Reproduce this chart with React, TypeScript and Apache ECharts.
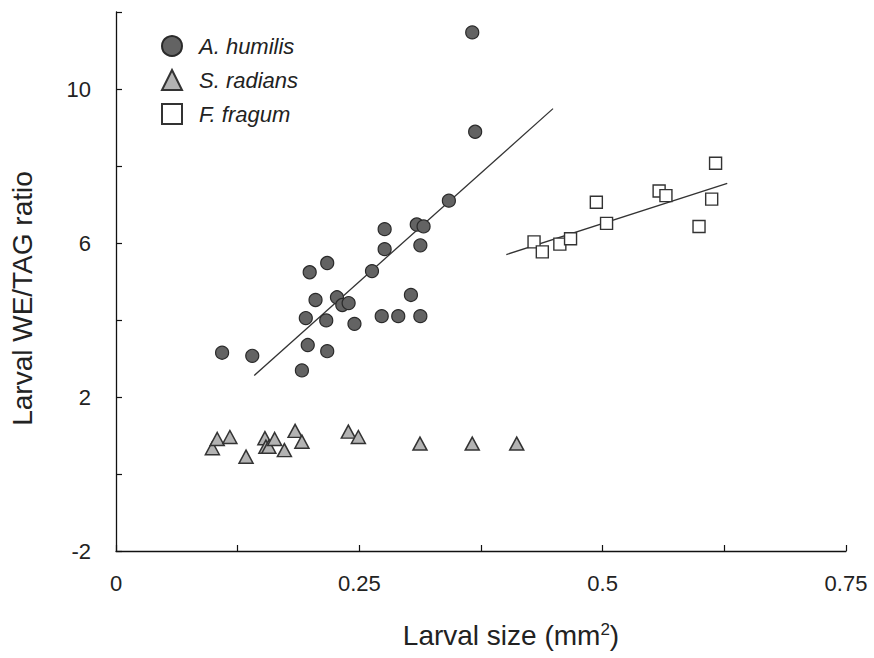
import React, { useEffect, useRef } from "react";
import * as echarts from "echarts";

// A. humilis (circles)
const humilisSize = [0.109, 0.140, 0.191, 0.197, 0.195, 0.205, 0.199, 0.217, 0.216, 0.217, 0.227, 0.2325, 0.239, 0.245, 0.263, 0.276, 0.276, 0.273, 0.290, 0.303, 0.3127, 0.3127, 0.309, 0.316, 0.342, 0.366, 0.369];
const humilisRatio = [3.15, 3.07, 2.69, 3.35, 4.05, 4.52, 5.24, 5.48, 3.99, 3.19, 4.59, 4.39, 4.44, 3.90, 5.27, 6.36, 5.84, 4.10, 4.10, 4.65, 4.10, 5.94, 6.48, 6.43, 7.10, 11.47, 8.89];

// S. radians (triangles)
const radiansSize = [0.099, 0.104, 0.117, 0.1336, 0.153, 0.154, 0.157, 0.163, 0.173, 0.184, 0.191, 0.2387, 0.249, 0.3123, 0.366, 0.4117];
const radiansRatio = [0.67, 0.91, 0.96, 0.45, 0.93, 0.71, 0.71, 0.91, 0.62, 1.12, 0.84, 1.10, 0.96, 0.79, 0.79, 0.79];

// F. fragum (squares)
const fragumSize = [0.4295, 0.438, 0.456, 0.467, 0.4935, 0.504, 0.558, 0.565, 0.616, 0.612, 0.599];
const fragumRatio = [6.03, 5.77, 5.97, 6.11, 7.06, 6.51, 7.35, 7.23, 8.07, 7.14, 6.43];

// Regression lines (end points)
const humilisFitX = [0.142, 0.449];
const humilisFitY = [2.56, 9.49];
const fragumFitX = [0.401, 0.628];
const fragumFitY = [5.70, 7.55];

// R² annotations
const fitLabels = ["R² = 0.47", "R² = 0.60"];
const fitLabelX = [0.261, 0.612];
const fitLabelY = [7.87, 5.77];

const seriesNames = ["A. humilis", "S. radians", "F. fragum"];

// Axis ticks / labels
const xMin = 0, xMax = 0.75, xTick = 0.125, xLabelStep = 0.25;
const yMin = -2, yMax = 12, yTick = 2, yLabelStep = 4;

const FONT = "'Liberation Sans', Arial, Helvetica, sans-serif";
const TEXT = "#222";

const zip = (xs: number[], ys: number[]) => xs.map((x, i) => [x, ys[i]]);

export default function App() {
  const ref = useRef<HTMLDivElement>(null);
  useEffect(() => {
    if (!ref.current) return;
    const chart = echarts.init(ref.current, undefined, { renderer: "svg" });
    const option = {
      animation: false,
      backgroundColor: "#fff",
      grid: { left: 116, right: 28, top: 12, bottom: 107, containLabel: false },
      legend: {
        data: seriesNames,
        orient: "vertical",
        left: 156,
        top: 30,
        itemWidth: 20,
        itemHeight: 20,
        itemGap: 12,
        selectedMode: false,
        textStyle: {
          fontFamily: FONT,
          fontSize: 22,
          fontStyle: "italic",
          color: TEXT,
          lineHeight: 20,
          padding: [0, 0, 0, 12],
        },
      },
      xAxis: {
        type: "value",
        min: xMin,
        max: xMax,
        interval: xTick,
        name: "Larval size (mm{sup|2})",
        nameLocation: "middle",
        nameGap: 70,
        nameTextStyle: {
          fontFamily: FONT,
          fontSize: 28,
          color: TEXT,
          padding: [0, 0, 0, 60],
          rich: {
            sup: { fontFamily: FONT, fontSize: 17, color: TEXT, verticalAlign: "top", padding: [0, 0, 10, 0] },
          },
        },
        axisLine: { onZero: false, lineStyle: { color: "#111", width: 1.3 } },
        axisTick: { inside: true, length: 6, lineStyle: { color: "#111", width: 1.2 } },
        splitLine: { show: false },
        axisLabel: {
          margin: 21,
          fontFamily: FONT,
          fontSize: 22,
          color: TEXT,
          showMinLabel: true,
          showMaxLabel: true,
          formatter: (v: number) => {
            const r = v / xLabelStep;
            return Math.abs(r - Math.round(r)) < 1e-6 ? String(+v.toFixed(3)) : "";
          },
        },
      },
      yAxis: {
        type: "value",
        min: yMin,
        max: yMax,
        interval: yTick,
        name: "Larval WE/TAG ratio",
        nameLocation: "middle",
        nameGap: 80,
        nameTextStyle: { fontFamily: FONT, fontSize: 28, color: TEXT, padding: [0, 34, 0, 0] },
        axisLine: { onZero: false, lineStyle: { color: "#111", width: 1.3 } },
        axisTick: { inside: true, length: 6, lineStyle: { color: "#111", width: 1.2 } },
        splitLine: { show: false },
        axisLabel: {
          margin: 25,
          fontFamily: FONT,
          fontSize: 22,
          color: TEXT,
          formatter: (v: number) => {
            const r = (v - yMin) / yLabelStep;
            return Math.abs(r - Math.round(r)) < 1e-6 ? String(v) : "";
          },
        },
      },
      series: [
        {
          name: seriesNames[0],
          type: "scatter",
          symbol: "circle",
          symbolSize: 13,
          data: zip(humilisSize, humilisRatio),
          itemStyle: { color: "#636363", borderColor: "#2a2a2a", borderWidth: 1.2, opacity: 1 },
          z: 3,
        },
        {
          name: seriesNames[1],
          type: "scatter",
          symbol: "triangle",
          symbolSize: [14, 13],
          data: zip(radiansSize, radiansRatio),
          itemStyle: { color: "#b3b3b3", borderColor: "#333", borderWidth: 1.5, opacity: 1 },
          z: 3,
        },
        {
          name: seriesNames[2],
          type: "scatter",
          symbol: "rect",
          symbolSize: 12,
          data: zip(fragumSize, fragumRatio),
          itemStyle: { color: "#ffffff", borderColor: "#333", borderWidth: 1.4, opacity: 1 },
          z: 3,
        },
        {
          name: "fit-humilis",
          type: "line",
          data: zip(humilisFitX, humilisFitY),
          symbol: "none",
          silent: true,
          lineStyle: { color: "#333", width: 1.3 },
          z: 2,
        },
        {
          name: "fit-fragum",
          type: "line",
          data: zip(fragumFitX, fragumFitY),
          symbol: "none",
          silent: true,
          lineStyle: { color: "#333", width: 1.3 },
          z: 2,
        },
        {
          name: "fit-labels",
          type: "scatter",
          symbolSize: 0,
          silent: true,
          itemStyle: { opacity: 0 },
          data: fitLabels.map((t, i) => ({ name: t, value: [fitLabelX[i], fitLabelY[i]] })),
          label: {
            show: true,
            position: "inside",
            formatter: "{b}",
            fontFamily: FONT,
            fontSize: 22,
            color: TEXT,
          },
          z: 4,
        },
      ],
    };
    chart.setOption(option as any);
    return () => chart.dispose();
  }, []);
  return (
    <div
      ref={ref}
      style={{ position: "fixed", left: 0, top: 0, width: 874, height: 658, background: "#fff" }}
    />
  );
}
